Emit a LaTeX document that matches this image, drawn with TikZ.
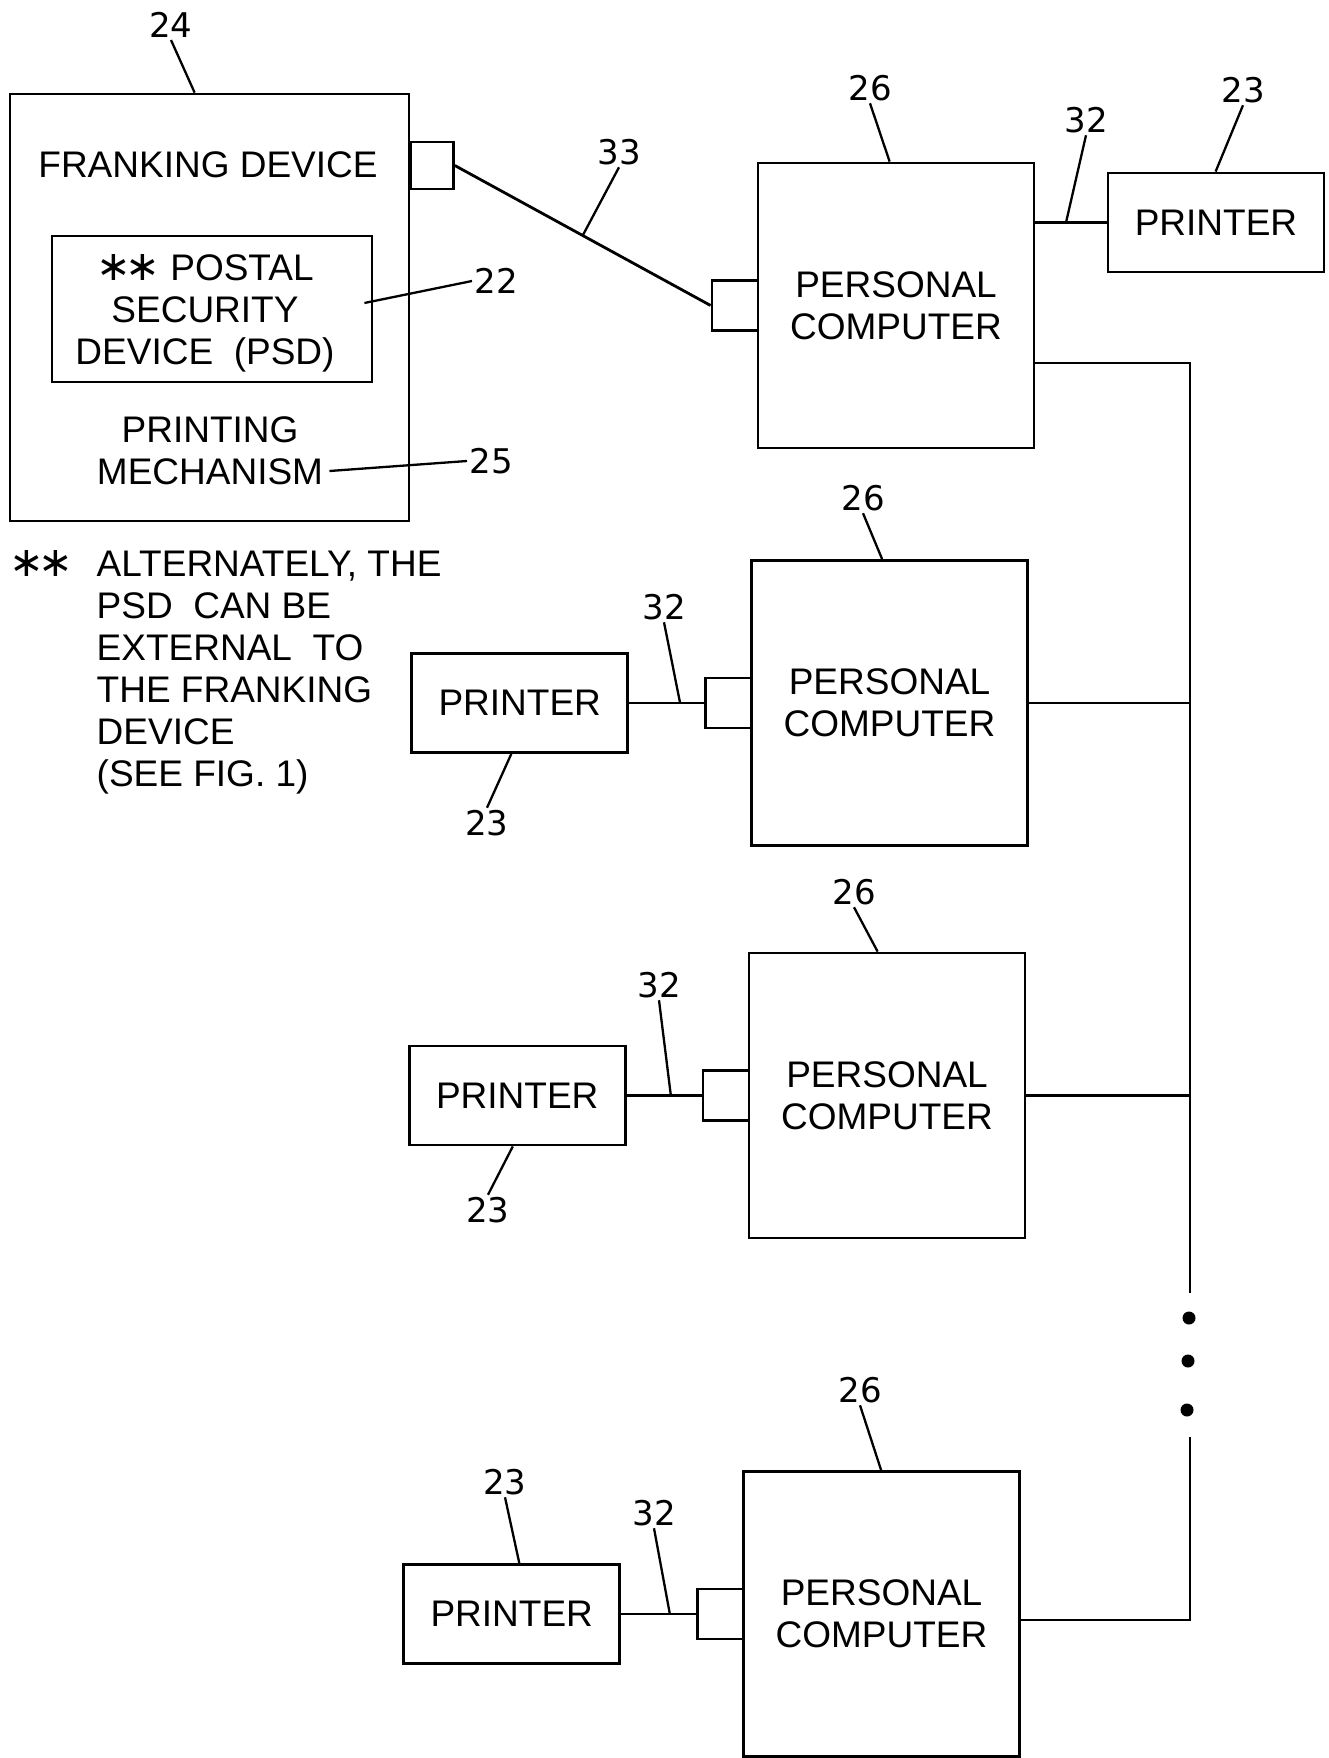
\documentclass[tikz,border=0pt]{standalone}
\usepackage{fontspec}
\setmainfont{Liberation Sans}
\newfontfamily\dvfont{DejaVu Sans}
\usetikzlibrary{positioning}

\newcommand{\boxfont}{\fontsize{37}{42}\selectfont}
\newcommand{\refnum}{\dvfont\fontsize{34}{38}\selectfont}
\newcommand{\dstar}{{\dvfont\scalebox{1.12}{∗\kern-0.14em∗}}}

\begin{document}
\begin{tikzpicture}[x=1pt,y=-1pt,line width=2.8pt,node distance=75pt,
    box/.style={draw,inner sep=0pt,font=\boxfont,align=center},
    pc node/.style={box,minimum width=276pt,minimum height=285pt},
    printer node/.style={box,minimum width=216pt,minimum height=99pt},
    port node/.style={box,minimum width=46pt,minimum height=50pt},
    num/.style={font=\refnum,inner sep=1pt},
    lead/.style={line width=2.3pt}]

  \useasboundingbox (0,0) rectangle (1329,1758);

  % franking device with PSD
  \node[box,minimum width=399pt,minimum height=427pt] (frank) at (209.5,307.5) {};
  \node[port node,minimum width=43pt,minimum height=47pt,anchor=west] (fport) at (409,165.5) {};
  \node[font=\boxfont] (fdtext) at (208,165) {FRANKING\ DEVICE};
  \node[box,minimum width=320pt,minimum height=146pt] (psd) at (212,309) {};
  \node[font=\boxfont,align=center,inner sep=0pt] (psdtext) at (205,313) {\dstar\ POSTAL\\SECURITY\\DEVICE\ \ (PSD)};
  \node[font=\boxfont,align=center,inner sep=0pt] (pm) at (210,451) {PRINTING\\MECHANISM};
  \node[num] (l24) at (171,25) {24};
  \node[num,anchor=west] (l22) at (472,281) {22};
  \node[num,anchor=west] (l25) at (467,461) {25};
  \draw[lead] (l24.south) -- ([xshift=186pt]frank.north west);
  \draw[lead] (l22.west) -- ([xshift=-9pt,yshift=6pt]psd.east);
  \draw[lead] (l25.west) -- ([xshift=5pt,yshift=-20pt]pm.east);

  % footnote
  \node[font=\boxfont,align=left,anchor=west] (note) at (92,672)
    {\llap{\dstar\hspace{24pt}}ALTERNATELY,\ THE\\PSD\ \ CAN\ BE\\EXTERNAL\ \ TO\\THE\ FRANKING\\DEVICE\\(SEE\ FIG.\ 1)};

  % computers
  \node[pc node] (pc1) at (896,305.5) {PERSONAL\\COMPUTER};
  \node[pc node] (pc2) at (889.5,703) {PERSONAL\\COMPUTER};
  \node[pc node] (pc3) at (887,1095.5) {PERSONAL\\COMPUTER};
  \node[pc node] (pc4) at (881.5,1614) {PERSONAL\\COMPUTER};
  \node[port node,left=-2.8pt of pc1] (port1) {};
  \node[port node,left=-2.8pt of pc2] (port2) {};
  \node[port node,left=-2.8pt of pc3] (port3) {};
  \node[port node,left=-2.8pt of pc4] (port4) {};

  % printers
  \node[printer node] (prt1) at (1216,222.5) {PRINTER};
  \node[printer node,left=of port2] (prt2) {PRINTER};
  \node[printer node,left=of port3] (prt3) {PRINTER};
  \node[printer node,left=of port4] (prt4) {PRINTER};

  % links
  \draw (fport.east) -- coordinate[pos=0.5] (c33) (port1.west);
  \draw (pc1.east |- prt1.west) -- coordinate[pos=0.43] (c32a) (prt1.west);
  \draw (prt2.east) -- coordinate[pos=0.68] (c32b) (prt2.east -| port2.west);
  \draw (prt3.east) -- coordinate[pos=0.59] (c32c) (prt3.east -| port3.west);
  \draw (prt4.east) -- coordinate[pos=0.65] (c32d) (prt4.east -| port4.west);

  % network line
  \coordinate (bustop) at (1190,363);
  \coordinate (busgap) at (1190,1293);
  \coordinate (busresume) at (1190,1437);
  \coordinate (busbot) at (1190,1620);
  \draw (pc1.east |- bustop) -- (bustop) -- (busgap);
  \draw (pc2.east) -- (pc2.east -| bustop);
  \draw (pc3.east) -- (pc3.east -| bustop);
  \draw (busresume) -- (busbot) -- (pc4.east |- busbot);
  \fill (1189,1318) circle (6.5pt) (1188,1361) circle (6.5pt) (1187,1410) circle (6.5pt);

  % reference numerals
  \node[num] (l33) at (619,152) {33};
  \node[num] (l26a) at (870,88) {26};
  \node[num] (l26b) at (863,498) {26};
  \node[num] (l26c) at (854,892) {26};
  \node[num] (l26d) at (860,1390) {26};
  \node[num] (l32a) at (1086,120) {32};
  \node[num] (l32b) at (664,607) {32};
  \node[num] (l32c) at (659,985) {32};
  \node[num] (l32d) at (654,1513) {32};
  \node[num] (l23a) at (1243,90) {23};
  \node[num] (l23b) at (487,823) {23};
  \node[num] (l23c) at (488,1210) {23};
  \node[num] (l23d) at (505,1482) {23};

  \draw[lead] (l33.south) -- (c33);
  \draw[lead] (l26a.south) -- ([xshift=133pt]pc1.north west);
  \draw[lead] (l26b.south) -- ([xshift=132pt]pc2.north west);
  \draw[lead] (l26c.south) -- ([xshift=130pt]pc3.north west);
  \draw[lead] (l26d.south) -- ([xshift=139pt]pc4.north west);
  \draw[lead] (l32a.south) -- (c32a);
  \draw[lead] (l32b.south) -- (c32b);
  \draw[lead] (l32c.south) -- (c32c);
  \draw[lead] (l32d.south) -- (c32d);
  \draw[lead] (l23a.south) -- ([xshift=109pt]prt1.north west);
  \draw[lead] (l23b.north) -- ([xshift=101pt]prt2.south west);
  \draw[lead] (l23c.north) -- ([xshift=105pt]prt3.south west);
  \draw[lead] (l23d.south) -- ([xshift=117pt]prt4.north west);

\end{tikzpicture}
\end{document}
